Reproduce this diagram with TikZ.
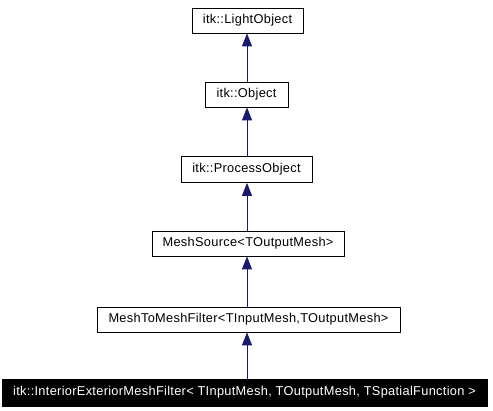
\documentclass[tikz,border=0pt]{standalone}
\usepackage{fontspec}
\setmainfont{Liberation Sans}[LetterSpace=2.4]
\usetikzlibrary{arrows.meta}
\definecolor{edgeblue}{HTML}{191970}
\begin{document}
\begin{tikzpicture}[x=1pt,y=-1pt,
  cls/.style={draw=black,line width=0.8pt,fill=white,inner sep=0pt,font=\fontsize{12.8}{14}\selectfont,text=black},
  cur/.style={cls,fill=black,draw=black,text=white},
  inh/.style={draw=edgeblue,line width=0.8pt,-{Triangle[length=13pt,width=10pt]}}]
\useasboundingbox[fill=white] (0,0) rectangle (493,411);
\node[cls,minimum width=111pt,minimum height=25pt] (lo) at (247.5,20.5) {itk::LightObject};
\node[cls,minimum width=83pt,minimum height=25pt] (obj) at (246.5,94.5) {itk::Object};
\node[cls,minimum width=131pt,minimum height=26pt] (po) at (246.5,169.5) {itk::ProcessObject};
\node[cls,minimum width=192pt,minimum height=25pt] (ms) at (248,243.5) {MeshSource<TOutputMesh>};
\node[cls,minimum width=303pt,minimum height=25pt] (mm) at (248.5,319.5) {MeshToMeshFilter<TInputMesh,TOutputMesh>};
\node[cur,minimum width=485pt,minimum height=27pt] (ie) at (244.5,392.5) {itk::InteriorExteriorMeshFilter< TInputMesh, TOutputMesh, TSpatialFunction >};
\draw[inh] (obj.north -| 247,0) -- (lo.south -| 247,0);
\draw[inh] (po.north -| 247,0) -- (obj.south -| 247,0);
\draw[inh] (ms.north -| 247,0) -- (po.south -| 247,0);
\draw[inh] (mm.north -| 247,0) -- (ms.south -| 247,0);
\draw[inh] (ie.north -| 247,0) -- (mm.south -| 247,0);
\end{tikzpicture}
\end{document}
